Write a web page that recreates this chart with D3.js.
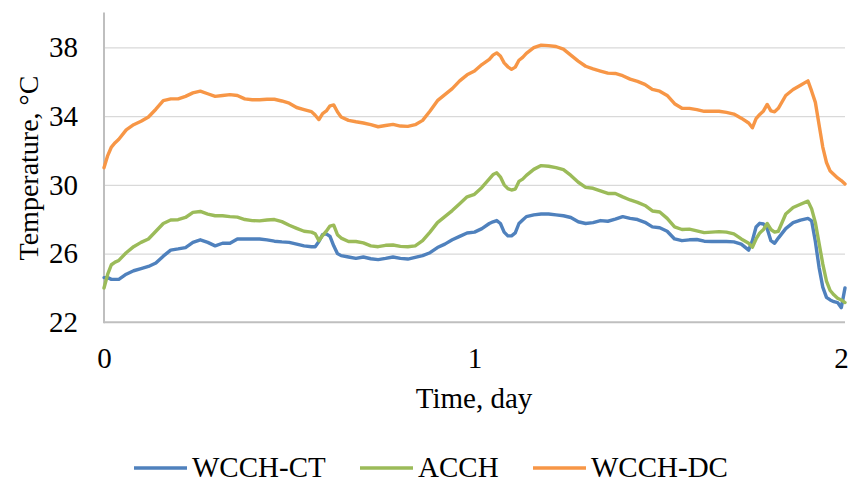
<!DOCTYPE html>
<html>
<head>
<meta charset="utf-8">
<script src="https://cdn.jsdelivr.net/npm/d3@7"></script>
<style>
  html, body { margin: 0; padding: 0; background: #ffffff; }
  svg { display: block; }
  text { font-family: "Liberation Serif", "Times New Roman", serif; fill: #000; }
</style>
</head>
<body>
<svg id="chart" width="849" height="484"></svg>
<script>
// ---- Data ----
const days = [
  0, 0.01, 0.02, 0.03, 0.04, 0.06, 0.08, 0.10, 0.12, 0.14,
  0.16, 0.18, 0.20, 0.22, 0.24, 0.26, 0.28, 0.30, 0.32, 0.34,
  0.36, 0.38, 0.40, 0.42, 0.44, 0.46, 0.48, 0.50, 0.52, 0.54,
  0.56, 0.57, 0.58, 0.59, 0.60, 0.61, 0.62, 0.63, 0.64, 0.66,
  0.68, 0.70, 0.72, 0.74, 0.76, 0.78, 0.80, 0.82, 0.84, 0.86,
  0.88, 0.90, 0.92, 0.94, 0.96, 0.98, 1.00, 1.02, 1.04, 1.05,
  1.06, 1.07, 1.08, 1.09, 1.10, 1.11, 1.12, 1.13, 1.14, 1.16,
  1.18, 1.20, 1.22, 1.24, 1.26, 1.28, 1.30, 1.32, 1.34, 1.36,
  1.38, 1.40, 1.42, 1.44, 1.46, 1.48, 1.50, 1.52, 1.54, 1.56,
  1.58, 1.60, 1.62, 1.64, 1.66, 1.68, 1.70, 1.72, 1.74, 1.75,
  1.76, 1.77, 1.78, 1.79, 1.80, 1.81, 1.82, 1.84, 1.86, 1.88,
  1.90, 1.91, 1.92, 1.93, 1.94, 1.95, 1.96, 1.97, 1.98, 1.99,
  2.00
];

const wcchCT = [
  24.6, 24.6, 24.5, 24.5, 24.5, 24.8, 25.0, 25.12, 25.25, 25.45,
  25.85, 26.2, 26.27, 26.35, 26.65, 26.8, 26.65, 26.45, 26.6, 26.6,
  26.85, 26.85, 26.85, 26.85, 26.8, 26.72, 26.68, 26.65, 26.55, 26.45,
  26.4, 26.4, 26.7, 27.1, 27.15, 27.0, 26.45, 26.0, 25.88, 25.8,
  25.72, 25.8, 25.7, 25.65, 25.72, 25.8, 25.72, 25.68, 25.78, 25.88,
  26.05, 26.35, 26.55, 26.8, 27.0, 27.2, 27.25, 27.45, 27.75, 27.85,
  27.92, 27.75, 27.25, 27.03, 27.03, 27.2, 27.75, 27.95, 28.15, 28.25,
  28.3, 28.3, 28.25, 28.2, 28.1, 27.85, 27.75, 27.8, 27.92, 27.88,
  28.0, 28.15, 28.05, 27.98, 27.82, 27.55, 27.5, 27.3, 26.85, 26.75,
  26.8, 26.82, 26.72, 26.7, 26.7, 26.7, 26.68, 26.55, 26.2, 26.75,
  27.55, 27.76, 27.72, 27.45, 26.75, 26.6, 26.9, 27.45, 27.8, 27.95,
  28.05, 27.9, 26.7, 25.2, 24.05, 23.45, 23.3, 23.2, 23.15, 22.85,
  24.0
];

const acch = [
  24.0, 24.8, 25.35, 25.5, 25.6, 26.05, 26.4, 26.65, 26.85, 27.3,
  27.75, 27.95, 27.97, 28.1, 28.4, 28.45, 28.3, 28.2, 28.2, 28.15,
  28.12, 27.98, 27.92, 27.9, 27.95, 27.98, 27.86, 27.65, 27.47, 27.3,
  27.25, 27.15, 26.75, 27.05, 27.3, 27.6, 27.65, 27.1, 26.9, 26.7,
  26.7, 26.62, 26.45, 26.4, 26.48, 26.5, 26.42, 26.4, 26.45, 26.75,
  27.25, 27.8, 28.15, 28.5, 28.9, 29.3, 29.45, 29.85, 30.35, 30.6,
  30.7, 30.45, 30.0, 29.78, 29.7, 29.75, 30.2, 30.33, 30.55, 30.9,
  31.12, 31.08, 31.0, 30.88, 30.55, 30.15, 29.85, 29.8, 29.65, 29.5,
  29.5, 29.3, 29.12, 28.98, 28.8, 28.48, 28.42, 28.05, 27.55, 27.4,
  27.42, 27.32, 27.22, 27.25, 27.28, 27.25, 27.15, 26.85, 26.6, 26.37,
  26.85, 27.2, 27.4, 27.75, 27.4, 27.25, 27.3, 28.3, 28.68, 28.87,
  29.05, 28.6, 27.8, 26.6, 25.4, 24.4, 23.85, 23.6, 23.4, 23.3,
  23.15
];

const wcchDC = [
  31.0, 31.7, 32.2, 32.45, 32.65, 33.2, 33.5, 33.7, 33.95, 34.4,
  34.9, 35.0, 35.0, 35.15, 35.35, 35.45, 35.3, 35.15, 35.2, 35.25,
  35.2, 35.0, 34.95, 34.95, 34.98, 34.98, 34.88, 34.75, 34.5, 34.38,
  34.26, 34.05, 33.8, 34.15, 34.3, 34.6, 34.65, 34.25, 33.95, 33.75,
  33.67, 33.6, 33.5, 33.38, 33.45, 33.52, 33.42, 33.4, 33.5, 33.75,
  34.3, 34.9, 35.25, 35.6, 36.05, 36.4, 36.62, 37.0, 37.3, 37.55,
  37.68, 37.5, 37.1, 36.87, 36.72, 36.85, 37.25, 37.42, 37.65, 37.98,
  38.13, 38.1, 38.05, 37.9, 37.55, 37.2, 36.9, 36.75, 36.62, 36.5,
  36.48, 36.35, 36.15, 36.02, 35.85, 35.55, 35.45, 35.2, 34.72, 34.46,
  34.45, 34.38, 34.28, 34.28, 34.28, 34.22, 34.12, 33.88, 33.6, 33.32,
  33.85, 34.1, 34.3, 34.68, 34.3, 34.25, 34.45, 35.2, 35.55, 35.8,
  36.05, 35.45, 34.8, 33.5, 32.2, 31.3, 30.8, 30.6, 30.4, 30.25,
  30.05
];

const seriesNames = ["WCCH-CT", "ACCH", "WCCH-DC"];
const seriesColors = ["#4f81bd", "#9bbb59", "#f79646"];
const yTicks = [22, 26, 30, 34, 38];
const xTicks = [0, 1, 2];
const yTitle = "Temperature, °C";
const xTitle = "Time, day";

// ---- Layout ----
const svg = d3.select("#chart");
const plotLeft = 104, plotRight = 845, plotTop = 13, plotBottom = 322.3;
const fontSize = 29;
const serif = "'Liberation Serif', 'Times New Roman', serif";

const x = d3.scaleLinear().domain([0, 2]).range([plotLeft, plotRight]);
const y = d3.scaleLinear().domain([22, 40]).range([plotBottom, plotTop]);

// gridlines
const grid = svg.append("g")
  .attr("transform", `translate(${plotLeft},0)`)
  .call(d3.axisLeft(y).tickValues(yTicks.filter(v => v !== 22)).tickSize(-(plotRight - plotLeft)).tickFormat(""));
grid.select(".domain").remove();
grid.selectAll("line").attr("stroke", "#d9d9d9").attr("stroke-width", 1.3);

// y axis labels
const yAx = svg.append("g")
  .attr("transform", `translate(${plotLeft},0)`)
  .call(d3.axisLeft(y).tickValues(yTicks).tickSize(0).tickPadding(26).tickFormat(d3.format("d")));
yAx.select(".domain").remove();
yAx.selectAll("text").style("font-family", serif).style("font-size", fontSize + "px").attr("fill", "#000");

// x axis labels
const xAx = svg.append("g")
  .attr("transform", `translate(0,${plotBottom})`)
  .call(d3.axisBottom(x).tickValues(xTicks).tickSize(0).tickPadding(25).tickFormat(d3.format("d")));
xAx.select(".domain").remove();
xAx.selectAll("text").style("font-family", serif).style("font-size", fontSize + "px").attr("fill", "#000");
// keep the last label inside the canvas
xAx.selectAll("text").filter(d => d === 2).attr("dx", -4);

// axis lines
svg.append("line").attr("x1", plotLeft).attr("x2", plotRight).attr("y1", plotBottom).attr("y2", plotBottom)
  .attr("stroke", "#bfbfbf").attr("stroke-width", 2);
svg.append("line").attr("x1", plotLeft).attr("x2", plotLeft).attr("y1", y(40) - 0.5).attr("y2", plotBottom + 1)
  .attr("stroke", "#bfbfbf").attr("stroke-width", 2);

// lines
const seriesData = [wcchCT, acch, wcchDC];
const line = d3.line().x(d => x(d[0])).y(d => y(d[1]));
seriesData.forEach((vals, i) => {
  const pts = days.map((d, j) => [d, vals[j]]);
  svg.append("path")
    .datum(pts)
    .attr("d", line)
    .attr("fill", "none")
    .attr("stroke", seriesColors[i])
    .attr("stroke-width", 3.4)
    .attr("stroke-linejoin", "round")
    .attr("stroke-linecap", "round");
});

// axis titles
svg.append("text")
  .attr("transform", `translate(38,168) rotate(-90)`)
  .attr("text-anchor", "middle")
  .style("font-family", serif)
  .style("font-size", "28px")
  .text(yTitle);

svg.append("text")
  .attr("x", 474).attr("y", 408)
  .attr("text-anchor", "middle")
  .style("font-family", serif)
  .style("font-size", fontSize + "px")
  .text(xTitle);

// legend
const legendX = [134, 360, 533];
const legendY = 468;
const leg = svg.append("g");
seriesNames.forEach((name, i) => {
  leg.append("line")
    .attr("x1", legendX[i]).attr("x2", legendX[i] + 53)
    .attr("y1", legendY).attr("y2", legendY)
    .attr("stroke", seriesColors[i]).attr("stroke-width", 3.4);
  leg.append("text")
    .attr("x", legendX[i] + 58).attr("y", 477)
    .style("font-family", serif)
    .style("font-size", fontSize + "px")
    .text(name);
});
</script>
</body>
</html>
